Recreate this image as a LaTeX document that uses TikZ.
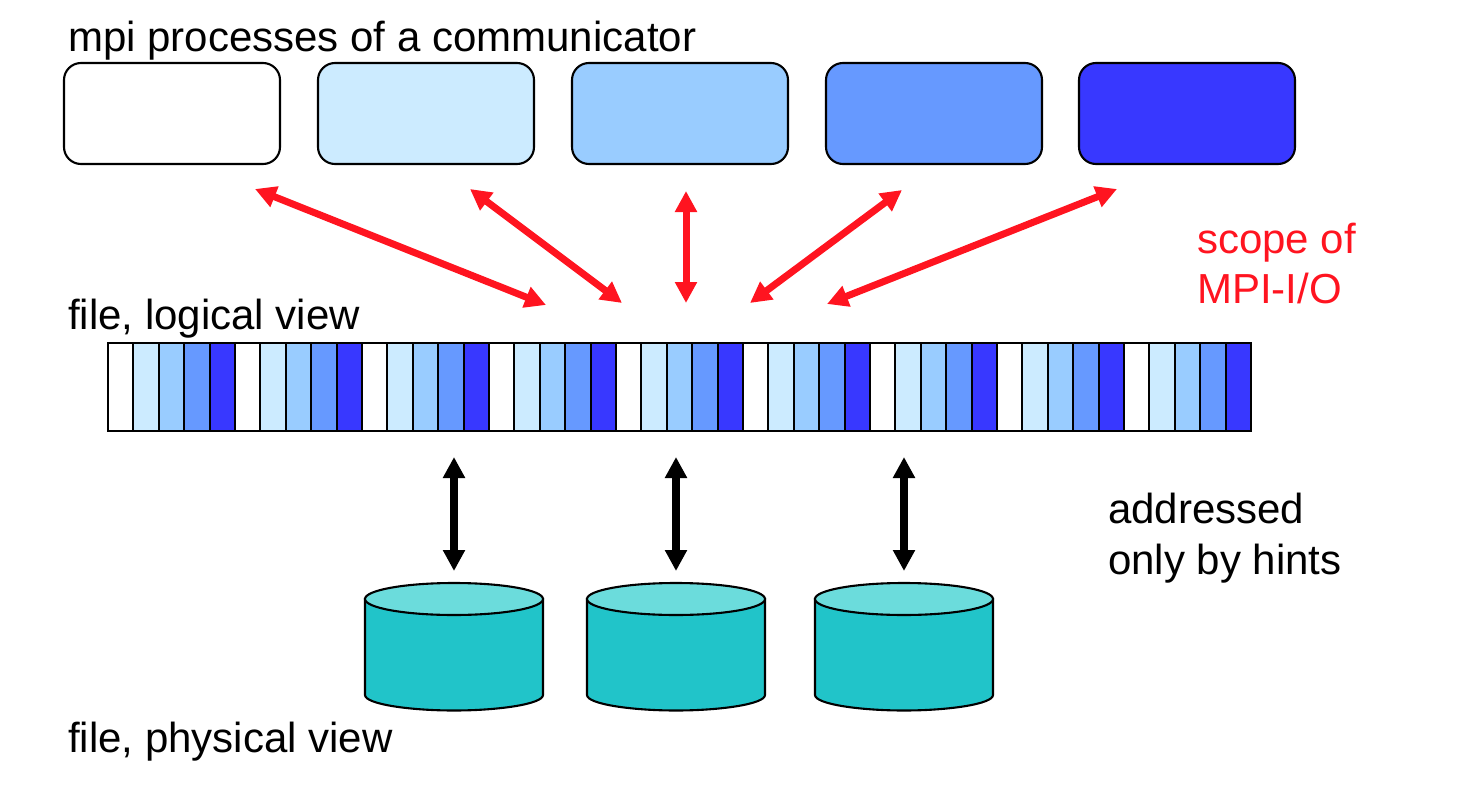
\documentclass[tikz,border=0pt]{standalone}
\usepackage{fontspec}
\setmainfont{Liberation Sans}
\usetikzlibrary{arrows.meta}
\definecolor{c0}{HTML}{FFFFFF}
\definecolor{c1}{HTML}{CCEBFF}
\definecolor{c2}{HTML}{99CCFF}
\definecolor{c3}{HTML}{6699FF}
\definecolor{c4}{HTML}{3838FF}
\definecolor{teal1}{HTML}{21C4C9}
\definecolor{teal2}{HTML}{6BDCDC}
\definecolor{redarrow}{HTML}{FF1420}
\tikzset{
  x=1pt,y=-1pt,
  procbox/.style={draw=black,line width=2.1pt,rounded corners=17pt,minimum width=216pt,minimum height=101pt,inner sep=0pt,outer sep=0pt,anchor=north west},
  cellbox/.style={draw=black,line width=2.1pt,minimum width=25.4pt,minimum height=88pt,inner sep=0pt,outer sep=0pt,anchor=north west},
  lbl/.style={font=\fontsize{42}{50}\selectfont,inner sep=0pt,anchor=base west},
  redarr/.style={draw=redarrow,line width=7pt,{Triangle[length=21pt,width=21pt]}-{Triangle[length=21pt,width=21pt]}},
  blackarr/.style={draw=black,line width=7.5pt,{Triangle[length=21pt,width=21pt]}-{Triangle[length=21pt,width=21pt]}},
  disk/.pic={
    \draw[line width=2.1pt,fill=teal1] (-89,16) -- (-89,112) .. controls (-89,121) and (-45,127.5) .. (0,127.5) .. controls (45,127.5) and (89,121) .. (89,112) -- (89,16) -- cycle;
    \draw[line width=2.1pt,fill=teal2] (0,16) ellipse[x radius=89,y radius=16];
  }
}
\begin{document}
\begin{tikzpicture}
\useasboundingbox (0,0) rectangle (1460,806);
\node[lbl] (t1) at (68,51) {mpi processes of a communicator};
\node[lbl] (t2) at (68,329) {file, logical view};
\node[lbl] (t3) at (68,752) {file, physical view};
\node[lbl,text=redarrow] (t4) at (1197,253) {scope of};
\node[lbl,text=redarrow] (t5) at (1197,303) {MPI-I/O};
\node[lbl] (t6) at (1108,523) {addressed};
\node[lbl] (t7) at (1108,574) {only by hints};
\node[procbox,fill=c0] (p0) at (64,63) {};
\node[procbox,fill=c1] (p1) at (318,63) {};
\node[procbox,fill=c2] (p2) at (572,63) {};
\node[procbox,fill=c3] (p3) at (826,63) {};
\node[procbox,fill=c4] (p4) at (1079,63) {};
\foreach \i in {0,...,44}{
  \pgfmathtruncatemacro{\k}{mod(\i,5)}
  \node[cellbox,fill=c\k] (cell\i) at (108+25.4*\i,343) {};
}
\pic at (454,583) {disk};
\pic at (676,583) {disk};
\pic at (904,583) {disk};
\coordinate (r1a) at (255,189); \coordinate (r1b) at (546,305);
\coordinate (r2a) at (470,189); \coordinate (r2b) at (622,303);
\coordinate (r3a) at (686,191); \coordinate (r3b) at (686,303);
\coordinate (r4a) at (902,190); \coordinate (r4b) at (750,303);
\coordinate (r5a) at (1117,189); \coordinate (r5b) at (827,304);
\draw[redarr] (r1a) -- (r1b);
\draw[redarr] (r2a) -- (r2b);
\draw[redarr] (r3a) -- (r3b);
\draw[redarr] (r4a) -- (r4b);
\draw[redarr] (r5a) -- (r5b);
\coordinate (b1a) at (454,457); \coordinate (b1b) at (454,571);
\coordinate (b2a) at (676,457); \coordinate (b2b) at (676,571);
\coordinate (b3a) at (904,457); \coordinate (b3b) at (904,571);
\draw[blackarr] (b1a) -- (b1b);
\draw[blackarr] (b2a) -- (b2b);
\draw[blackarr] (b3a) -- (b3b);
\end{tikzpicture}
\end{document}
